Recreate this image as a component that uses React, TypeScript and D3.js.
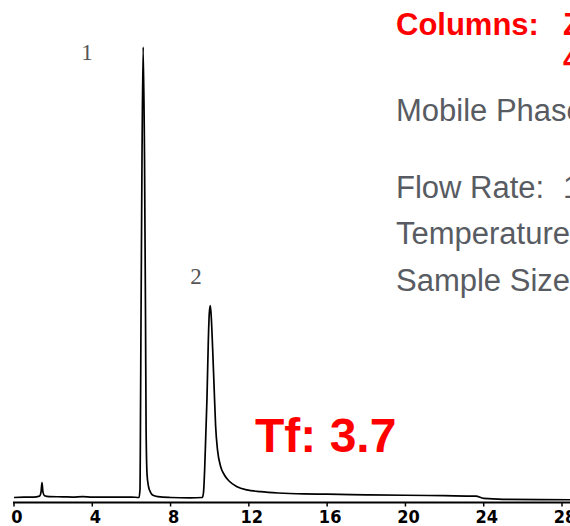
import React from "react";
import * as d3 from "d3";

// retention time (min) and detector signal (% of peak 1 height)
const times = [
	0, 0.5, 1.0, 1.3, 1.38, 1.43, 1.48, 1.56, 1.8, 2.5, 3.0, 3.5, 4.0, 5.0, 6.0,
	6.39, 6.44, 6.46, 6.49, 6.54, 6.6, 6.67, 6.72, 6.75, 6.8, 6.87, 6.97, 7.1, 7.36,
	8.0, 9.0, 9.62, 9.68, 9.74, 9.8, 9.86, 9.93, 9.98, 10.03, 10.08, 10.15, 10.22,
	10.3, 10.4, 10.55, 10.75, 11.0, 11.4, 11.9, 12.6, 13.5, 14.8, 16, 18, 20, 22,
	23.6, 24.0, 25, 28.5,
];
const signal = [
	0, 0.1, 0.1, 0.3, 1.2, 3.3, 1.2, 0.4, 0.2, 0.15, 0.1, 0.2, 0.1, 0.1, 0.1,
	0, 2, 15, 40, 75, 100, 75, 40, 15, 5, 2.5, 1.2, 0.5, 0.2,
	0, -0.1, 0, 1, 6, 14, 22, 35, 41, 42.6, 40, 33, 25,
	16, 10.5, 7, 5, 3.6, 2.4, 1.7, 1.3, 1.0, 0.8, 0.75, 0.6, 0.5, 0.4,
	0.3, -0.2, -0.4, -0.5,
];
const tickValues = [0, 4, 8, 12, 16, 20, 24, 28];
const peakLabels = [
	{ label: "1", t: 6.6, h: 100 },
	{ label: "2", t: 10.03, h: 42.6 },
];
const infoLines = ["Mobile Phase:", "Flow Rate:", "Temperature:", "Sample Size:"];

export default function App() {
	const x = d3.scaleLinear().domain([0, 28]).range([14, 562]);
	const y = d3.scaleLinear().domain([0, 100]).range([497.5, 47]);

	const pts: [number, number][] = times.map((t, i) => [t, signal[i]]);
	const line = d3
		.line<[number, number]>()
		.x((d) => x(d[0]))
		.y((d) => y(d[1]))
		.curve(d3.curveMonotoneX);

	const gray = "#585c62";
	const red = "#ff0000";
	const axisY = 502.5;

	return (
		<svg
			width={570}
			height={526}
			style={{ position: "absolute", left: 0, top: 0, background: "#fff" }}
		>
			<rect width={570} height={526} fill="#fff" />
			{/* trace */}
			<path d={line(pts) || ""} fill="none" stroke="#000" strokeWidth={1.7} strokeLinejoin="round" />

			{/* axis */}
			<line x1={13} x2={570} y1={axisY} y2={axisY} stroke="#000" strokeWidth={2} />
			{tickValues.map((v) => (
				<g key={v}>
					<line x1={x(v)} x2={x(v)} y1={axisY} y2={axisY + 4} stroke="#000" strokeWidth={1.5} />
					<text
						x={x(v) + 3}
						y={523}
						textAnchor="middle"
						fontFamily="'Liberation Sans Narrow', 'DejaVu Sans Condensed', sans-serif"
						fontWeight="bold"
						fontSize={18}
						fill="#000"
					>
						{v}
					</text>
				</g>
			))}

			{/* peak numbers */}
			{peakLabels.map((p) => (
				<text
					key={p.label}
					x={x(p.t) - (p.label === "1" ? 62 : 20)}
					y={y(p.h) + (p.label === "1" ? 13 : -22)}
					fontFamily="'Liberation Serif', 'Times New Roman', serif"
					fontSize={23}
					fill="#555"
				>
					{p.label}
				</text>
			))}

			{/* conditions */}
			<g fontFamily="'Liberation Sans', Arial, sans-serif" fontSize={31}>
				<text x={396} y={35} fill={red} fontWeight="bold">
					Columns:
				</text>
				<text x={563} y={35} fill={red} fontWeight="bold">
					Z
				</text>
				<text x={563} y={70} fill={red} fontWeight="bold">
					4
				</text>
				<text x={396} y={121} fill={gray}>
					{infoLines[0]}
				</text>
				<text x={396} y={198} fill={gray}>
					{infoLines[1]}
				</text>
				<text x={563} y={198} fill={gray}>
					1
				</text>
				<text x={396} y={244} fill={gray}>
					{infoLines[2]}
				</text>
				<text x={396} y={291} fill={gray}>
					{infoLines[3]}
				</text>
			</g>

			<text
				x={255}
				y={452}
				fill={red}
				fontFamily="'Liberation Sans', Arial, sans-serif"
				fontWeight="bold"
				fontSize={48}
			>
				Tf: 3.7
			</text>
		</svg>
	);
}
